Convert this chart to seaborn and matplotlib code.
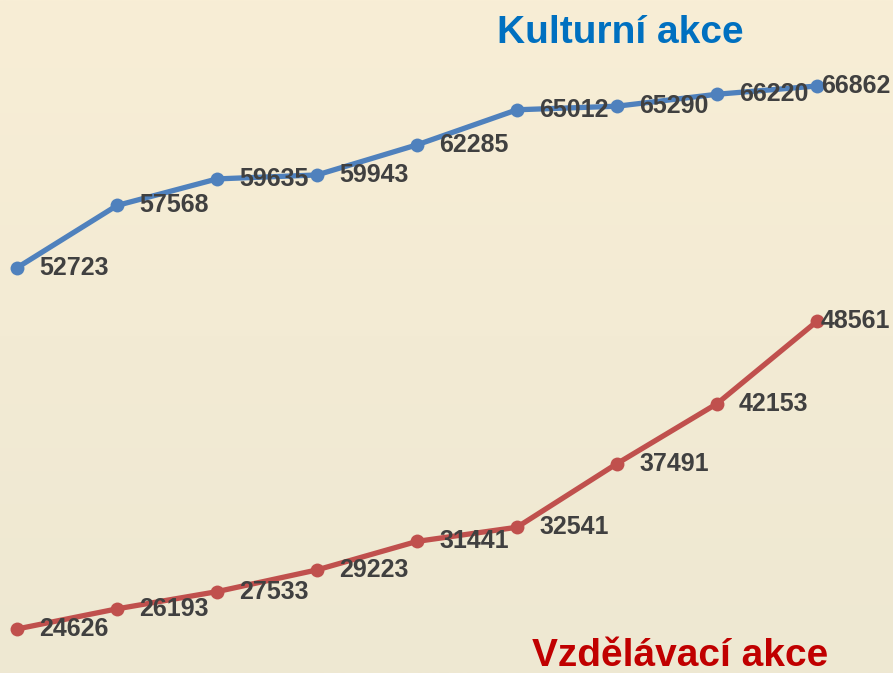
import numpy as np
import pandas as pd
import matplotlib
matplotlib.use("Agg")
import matplotlib.pyplot as plt
import seaborn as sns
from matplotlib import font_manager

periods = list(range(9))
kulturni = [52723, 57568, 59635, 59943, 62285, 65012, 65290, 66220, 66862]
vzdelavaci = [24626, 26193, 27533, 29223, 31441, 32541, 37491, 42153, 48561]
series_names = ["Kulturní akce", "Vzdělávací akce"]

sns.set_theme(style="white")
names = {f.name for f in font_manager.fontManager.ttflist}
fam = "Liberation Sans Narrow" if "Liberation Sans Narrow" in names else "Liberation Sans"
plt.rcParams["font.family"] = [fam, "DejaVu Sans"]

df = pd.DataFrame({
    "period": periods * 2,
    "value": kulturni + vzdelavaci,
    "series": [series_names[0]] * 9 + [series_names[1]] * 9,
})

fig = plt.figure(figsize=(8.93, 6.73), dpi=100)
ax = fig.add_axes([0, 0, 1, 1])

# background gradient
top = np.array([0xF8, 0xEE, 0xD6]) / 255
bot = np.array([0xEE, 0xE8, 0xD2]) / 255
t = np.linspace(0, 1, 256)[:, None]
grad = (top[None, :] * (1 - t) + bot[None, :] * t)[:, None, :]
ax.imshow(grad, aspect="auto", extent=[-0.17, 8.76, 21204, 73551], origin="upper", zorder=0)

palette = {series_names[0]: "#4F81BD", series_names[1]: "#C0504D"}
sns.lineplot(data=df, x="period", y="value", hue="series", palette=palette,
             marker="o", markersize=10, linewidth=3.8, markeredgewidth=0,
             legend=False, ax=ax, zorder=3)

ax.set_xlim(-0.17, 8.76)
ax.set_ylim(21204, 73551)
ax.axis("off")

for vals in (kulturni, vzdelavaci):
    for i, v in enumerate(vals):
        dx = 0.04 if i == len(vals) - 1 else 0.22
        ax.text(i + dx, v, str(v), ha="left", va="center", fontsize=18,
                fontweight="bold", color="#404040", zorder=4)

ax.text(6.03, 71000, "Kulturní akce", ha="center", va="center", fontsize=28,
        fontweight="bold", color="#0070C0", zorder=4)
ax.text(6.63, 22500, "Vzdělávací akce", ha="center", va="center", fontsize=28,
        fontweight="bold", color="#C00000", zorder=4)

fig.savefig("out.png", dpi=100)
